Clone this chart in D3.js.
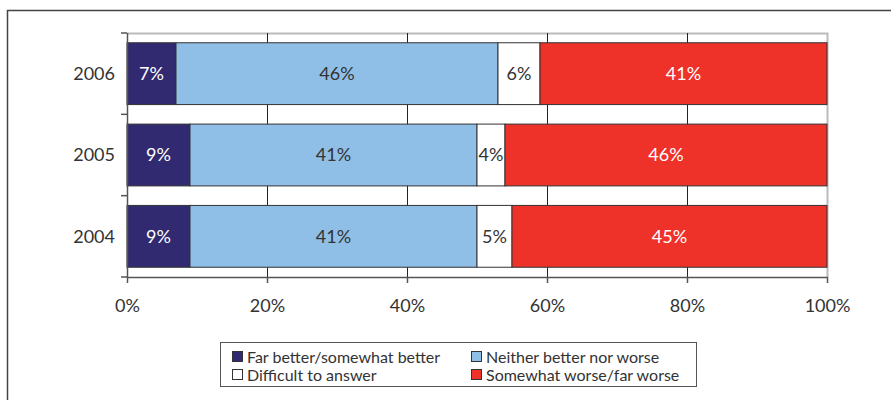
<!DOCTYPE html>
<html><head><meta charset="utf-8">
<script src="https://cdn.jsdelivr.net/npm/d3@7"></script>
<style>body{margin:0;background:#fff}svg{display:block}text{font-family:Lato,"Open Sans",sans-serif}</style>
</head><body><svg id="c" width="891" height="400"></svg>
<script>
const years = ["2006","2005","2004"];
const seriesNames = ["Far better/somewhat better","Neither better nor worse","Difficult to answer","Somewhat worse/far worse"];
const farBetter = [7, 9, 9];
const neither = [46, 41, 41];
const difficult = [6, 4, 5];
const worse = [41, 46, 45];
const xTicks = [0, 20, 40, 60, 80, 100];
const colors = ["#312a70", "#8fbfe6", "#ffffff", "#ee3129"];
const labelColors = ["#ffffff", "#333333", "#333333", "#ffffff"];

const svg = d3.select("#c");
const values = [farBetter, neither, difficult, worse];
const rows = years.map((y, i) => {
  const o = {year: y};
  seriesNames.forEach((s, k) => o[s] = values[k][i]);
  return o;
});
const stack = d3.stack().keys(seriesNames)(rows);

const m = {l:127, r:827, t:33, b:277};
const x = d3.scaleLinear().domain([0,100]).range([m.l, m.r]);
const y = d3.scaleBand().domain(years).range([m.t, m.b]).paddingInner(0.24).paddingOuter(0.12);

// outer frame
svg.append("rect").attr("x",7.5).attr("y",10.5).attr("width",900).attr("height",400)
  .attr("fill","none").attr("stroke","#444").attr("stroke-width",1.5);

// plot frame (top, right)
svg.append("path").attr("d",`M${m.l},${m.t+0.5}H${m.r+0.5}V${m.b}`).attr("fill","none").attr("stroke","#bbb").attr("stroke-width",2);

// gridlines
svg.append("g").selectAll("line").data(xTicks.filter(t=>t>0 && t<100)).join("line")
  .attr("x1",d=>Math.round(x(d))+0.5).attr("x2",d=>Math.round(x(d))+0.5)
  .attr("y1",m.t).attr("y2",m.b).attr("stroke","#222").attr("stroke-width",1);

// bars
const g = svg.append("g");
stack.forEach((layer, k) => {
  g.append("g").selectAll("rect").data(layer).join("rect")
    .attr("x", d => x(d[0])).attr("y", d => y(d.data.year))
    .attr("width", d => x(d[1]) - x(d[0])).attr("height", y.bandwidth())
    .attr("fill", colors[k]).attr("stroke","#333").attr("stroke-width",1);
  g.append("g").selectAll("text").data(layer).join("text")
    .attr("x", d => (x(d[0]) + x(d[1]))/2).attr("y", d => y(d.data.year) + y.bandwidth()/2)
    .attr("dy","0.36em").attr("text-anchor","middle").attr("font-size",18)
    .attr("fill", labelColors[k]).text(d => (d[1]-d[0]) + "%");
});

// y axis
const ya = svg.append("g").attr("transform",`translate(${m.l},0)`);
ya.append("line").attr("x1",0.5).attr("x2",0.5).attr("y1",m.t).attr("y2",m.b).attr("stroke","#555").attr("stroke-width",1.5);
const yb = [m.t, ...years.slice(1).map(d => y(d) - y.step()*y.paddingInner()/2), m.b];
ya.selectAll("line.t").data(yb).join("line").attr("class","t")
  .attr("x1",-6).attr("x2",0).attr("y1",d=>d).attr("y2",d=>d).attr("stroke","#555").attr("stroke-width",1.5);
ya.selectAll("text").data(years).join("text")
  .attr("x",-12).attr("y",d=>y(d)+y.bandwidth()/2).attr("dy","0.36em")
  .attr("text-anchor","end").attr("font-size",18).attr("fill","#333").text(d=>d);

// x axis
const xa = svg.append("g").attr("transform",`translate(0,${m.b})`)
  .call(d3.axisBottom(x).tickValues(xTicks).tickFormat(d=>d+"%").tickSize(6).tickSizeOuter(0));
xa.select(".domain").attr("stroke","#555").attr("stroke-width",1.5);
xa.selectAll(".tick line").attr("stroke","#555").attr("stroke-width",1.5);
xa.selectAll(".tick text").attr("font-size",18).attr("fill","#333").attr("dy","1.45em").style("font-family","Lato,sans-serif");

// legend
const lg = svg.append("g");
lg.append("rect").attr("x",220.5).attr("y",342.5).attr("width",476).attr("height",44)
  .attr("fill","#fff").attr("stroke","#555").attr("stroke-width",1);
const pos = [[232,357],[471,357],[232,375],[471,375]];
seriesNames.forEach((s,k) => {
  lg.append("rect").attr("x",pos[k][0]+0.5).attr("y",pos[k][1]-5.5).attr("width",10).attr("height",10)
    .attr("fill",colors[k]).attr("stroke","#333").attr("stroke-width",1);
  lg.append("text").attr("x",pos[k][0]+15).attr("y",pos[k][1]).attr("dy","0.36em")
    .attr("font-size",16).attr("fill","#333").text(s);
});
</script></body></html>
